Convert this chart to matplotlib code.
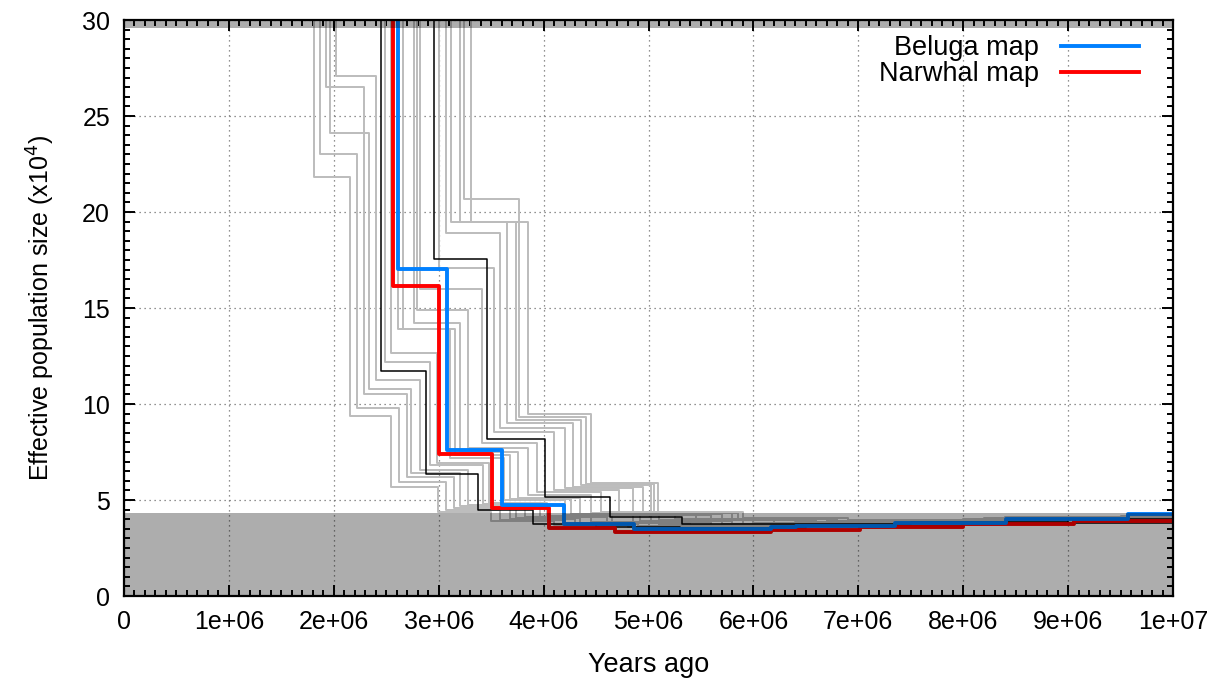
import matplotlib
matplotlib.use("Agg")
import matplotlib.pyplot as plt
from matplotlib.ticker import MultipleLocator

plt.rcParams['font.family'] = ['Liberation Sans', 'DejaVu Sans']

# times in millions of years, Ne in units of 1e4 (60 = off the top of the chart)
beluga_t = [0, 2.61, 3.08, 3.60, 4.19, 4.86, 5.62, 6.17, 6.41, 7.35, 8.41, 9.57, 10.0]
beluga_ne = [60, 17.03, 7.6, 4.74, 3.75, 3.47, 3.50, 3.61, 3.66, 3.82, 4.01, 4.25]

narwhal_t = [0, 2.56, 3.00, 3.51, 4.05, 4.68, 6.17, 7.02, 8.00, 9.06, 10.0]
narwhal_ne = [60, 16.15, 7.4, 4.58, 3.56, 3.32, 3.44, 3.59, 3.75, 3.92]

# two highlighted runs (black)
black_runs = [
    ([0, 2.45, 2.88, 3.37, 3.90, 4.50, 5.30, 6.50, 8.00, 10.0],
     [60, 11.73, 6.35, 4.48, 3.75, 3.60, 3.55, 3.65, 3.80]),
    ([0, 2.955, 3.46, 4.01, 4.63, 5.32, 6.00, 7.50, 9.00, 10.0],
     [60, 17.57, 8.19, 5.17, 4.13, 3.73, 3.75, 3.85, 4.00]),
]

# bootstrap runs (grey)
boot_runs = [
    ([0, 1.81, 2.15, 2.55, 2.99, 3.50, 4.10, 4.80, 6.00, 8.00, 10.0],
     [60, 21.8, 9.40, 5.66, 4.40, 3.90, 3.70, 3.60, 3.70, 3.90]),
    ([0, 1.87, 2.22, 2.62, 3.07, 3.58, 4.20, 4.90, 6.20, 8.30, 10.0],
     [60, 23.0, 9.80, 5.95, 4.50, 3.95, 3.75, 3.65, 3.75, 3.95]),
    ([0, 1.93, 2.29, 2.70, 3.15, 3.68, 4.30, 5.00, 6.30, 8.50, 10.0],
     [60, 26.5, 10.5, 6.20, 4.60, 4.00, 3.80, 3.65, 3.80, 4.00]),
    ([0, 1.96, 2.34, 2.74, 3.20, 3.74, 4.35, 5.10, 6.40, 8.60, 10.0],
     [60, 24.1, 10.8, 6.40, 4.70, 4.05, 3.80, 3.70, 3.85, 4.05]),
    ([0, 2.02, 2.40, 2.82, 3.28, 3.82, 4.45, 5.20, 6.50, 8.80, 10.0],
     [60, 27.1, 11.25, 6.56, 4.75, 4.10, 3.85, 3.70, 3.85, 4.05]),
    ([0, 2.49, 2.92, 3.42, 3.97, 4.60, 5.30, 6.50, 8.50, 10.0],
     [60, 12.2, 6.80, 4.80, 4.10, 3.80, 3.65, 3.75, 3.95]),
    ([0, 2.55, 2.98, 3.48, 4.03, 4.65, 5.40, 6.60, 8.70, 10.0],
     [60, 12.64, 6.95, 4.85, 4.15, 3.80, 3.70, 3.80, 4.00]),
    ([0, 2.61, 3.11, 3.62, 4.20, 4.85, 5.60, 7.00, 9.00, 10.0],
     [60, 13.9, 7.20, 5.00, 4.20, 3.85, 3.70, 3.80, 4.00]),
    ([0, 2.66, 3.16, 3.68, 4.26, 4.92, 5.70, 7.10, 9.10, 10.0],
     [60, 13.9, 7.34, 5.05, 4.25, 3.90, 3.75, 3.85, 4.05]),
    ([0, 2.76, 3.20, 3.76, 4.35, 5.02, 5.80, 7.20, 9.20, 10.0],
     [60, 14.2, 7.50, 5.10, 4.25, 3.90, 3.75, 3.85, 4.05]),
    ([0, 2.79, 3.28, 3.85, 4.45, 5.10, 5.90, 7.30, 9.30, 10.0],
     [60, 14.9, 7.70, 5.25, 4.30, 3.95, 3.75, 3.90, 4.10]),
    ([0, 2.82, 3.41, 3.94, 4.55, 5.25, 6.00, 7.50, 9.40, 10.0],
     [60, 16.0, 7.97, 5.40, 4.35, 4.00, 3.80, 3.95, 4.10]),
    ([0, 3.00, 3.53, 4.10, 4.72, 5.45, 6.20, 7.60, 9.50, 10.0],
     [60, 17.1, 8.55, 5.50, 4.40, 4.00, 3.80, 3.95, 4.15]),
    ([0, 3.07, 3.58, 4.20, 4.85, 5.60, 6.50, 8.00, 9.60, 10.0],
     [60, 18.9, 8.75, 5.60, 4.20, 3.95, 3.85, 4.00, 4.15]),
    ([0, 3.12, 3.65, 4.28, 4.95, 5.70, 6.60, 8.10, 9.70, 10.0],
     [60, 19.5, 9.00, 5.70, 4.25, 3.95, 3.85, 4.00, 4.20]),
    ([0, 3.20, 3.74, 4.36, 5.02, 5.80, 6.70, 8.20, 9.80, 10.0],
     [60, 19.5, 9.17, 5.78, 4.30, 4.00, 3.90, 4.05, 4.20]),
    ([0, 3.24, 3.77, 4.40, 5.05, 5.85, 6.80, 8.30, 10.0],
     [60, 20.7, 9.30, 5.85, 4.30, 4.00, 3.90, 4.05]),
    ([0, 3.31, 3.85, 4.45, 5.09, 5.90, 6.90, 8.40, 10.0],
     [60, 19.5, 9.50, 5.90, 4.35, 4.05, 3.95, 4.10]),
]

# shaded bands (Ne, 1e4)
low_band = 4.3
top_band = 29.58

xtick_vals = [0, 1e6, 2e6, 3e6, 4e6, 5e6, 6e6, 7e6, 8e6, 9e6, 1e7]
xtick_labels = ["0", "1e+06", "2e+06", "3e+06", "4e+06", "5e+06",
                "6e+06", "7e+06", "8e+06", "9e+06", "1e+07"]
ytick_vals = [0, 5, 10, 15, 20, 25, 30]


def step(ax, t, ne, **kw):
    x = [v * 1e6 for v in t]
    y = list(ne) + [ne[-1]]
    return ax.plot(x, y, drawstyle='steps-post', **kw)


fig = plt.figure(figsize=(12.26, 6.84), dpi=100)
ax = fig.add_axes([124 / 1226, 88 / 684, 1049 / 1226, 576 / 684])

for t, ne in boot_runs:
    step(ax, t, ne, color='#bcbcbc', lw=1.4, zorder=2)
for t, ne in black_runs:
    step(ax, t, ne, color='black', lw=1.1, zorder=3)
step(ax, narwhal_t, narwhal_ne, color='#ff0000', lw=2.8, zorder=4, label='Narwhal map')
step(ax, beluga_t, beluga_ne, color='#0080ff', lw=2.8, zorder=4, label='Beluga map')

ax.axhspan(0, low_band, color='black', alpha=0.32, lw=0, zorder=5)
ax.axhspan(top_band, 30, color='black', alpha=0.32, lw=0, zorder=5)

ax.set_xlim(0, 1e7)
ax.set_ylim(0, 30)
ax.set_xticks(xtick_vals)
ax.set_xticklabels(xtick_labels)
ax.set_yticks(ytick_vals)
ax.xaxis.set_minor_locator(MultipleLocator(1e5))
ax.yaxis.set_minor_locator(MultipleLocator(0.5))
ax.tick_params(which='both', direction='in', top=True, right=True, width=1.4,
               labelsize=18, pad=10)
ax.tick_params(which='major', length=8)
ax.tick_params(which='minor', length=4.5)
ax.grid(True, which='major', color='#6e6e6e', ls=(0, (1, 3)), lw=0.9)
ax.set_axisbelow(True)
for s in ax.spines.values():
    s.set_linewidth(1.6)
    s.set_zorder(6)

ax.set_xlabel("Years ago", fontsize=19.5, labelpad=13)
ax.set_ylabel("Effective population size (x10$^4$)", fontsize=18, labelpad=18)

handles, labels = ax.get_legend_handles_labels()
leg = ax.legend(handles[::-1], labels[::-1], loc='upper right', frameon=False,
                markerfirst=False, fontsize=19.5, handlelength=2.9,
                handletextpad=0.8, labelspacing=0.0,
                bbox_to_anchor=(0.991, 1.016))
leg.set_zorder(7)

fig.savefig("out.png", dpi=100)
